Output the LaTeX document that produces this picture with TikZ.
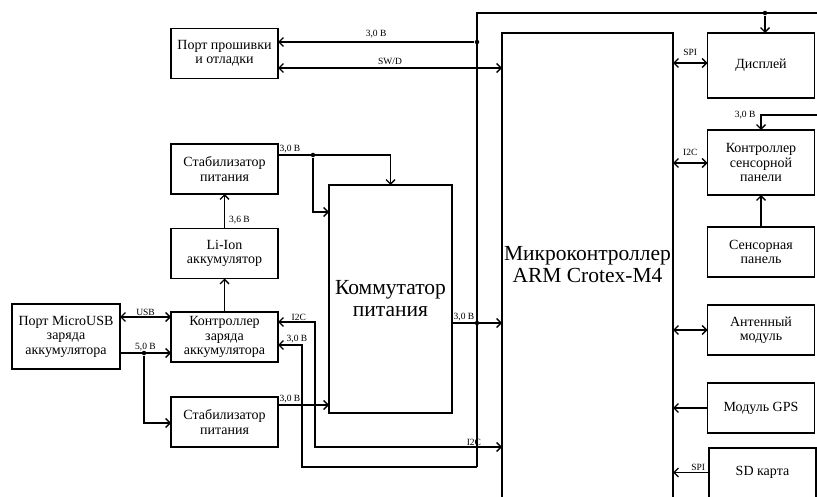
\documentclass[tikz,border=0pt]{standalone}
\usepackage{fontspec}
\setmainfont{Liberation Serif}
\usetikzlibrary{arrows.meta,calc}

\begin{document}
\begin{tikzpicture}[x=1pt, y=-1pt, line width=1.3pt, >={Straight Barb[length=4.5pt,width=9pt]}]
    \tikzset{block/.style={rectangle, draw, minimum width=107pt, minimum height=50pt, align=center, inner sep=1pt, outer sep=0pt, font=\fontsize{14}{14.5}\selectfont}}
    \tikzset{big/.style={font=\fontsize{21.5}{22}\selectfont}}
    \tikzset{lbl/.style={font=\fontsize{9.5}{10}\selectfont, inner sep=1pt}}
    \tikzset{arrow/.style={->}}
    \tikzset{biarrow/.style={<->}}
    \tikzset{dot/.style={circle, fill, inner sep=0pt, minimum size=4.5pt}}

    \useasboundingbox (0,0) rectangle (817,497);

    % Left column
    \node[block] (port) at (224.5,53.5) {Порт прошивки\\и отладки};
    \node[block] (stab1) at (224.5,169) {Стабилизатор\\питания};
    \node[block] (liion) at (224.5,253.5) {Li-Ion\\аккумулятор};
    \node[block] (chg) at (224.5,337) {Контроллер\\заряда\\аккумулятора};
    \node[block] (stab2) at (224.5,422) {Стабилизатор\\питания};
    \node[block, minimum width=108pt, minimum height=65pt] (usb) at (66,336.5) {Порт MicroUSB\\заряда\\аккумулятора};

    % Switch and MCU
    \node[block, big, minimum width=123pt, minimum height=228pt] (komm) at (390.5,299) {Коммутатор\\питания};
    \node[block, big, draw=none, minimum width=171pt, minimum height=464pt] (mcu) at (587.5,265) {Микроконтроллер\\ARM Crotex-M4};
    \draw (mcu.south west) -- (mcu.north west) -- (mcu.north east) -- (mcu.south east);

    % Right column
    \node[block, minimum height=65pt] (disp) at (761,65.5) {Дисплей};
    \node[block, minimum height=65pt] (tctrl) at (761,162.5) {Контроллер\\сенсорной\\панели};
    \node[block] (tpanel) at (761,252) {Сенсорная\\панель};
    \node[block] (ant) at (761,330) {Антенный\\модуль};
    \node[block] (gps) at (761,408) {Модуль GPS};
    \node[block, draw=none, minimum height=49pt] (sd) at (762.5,472.5) {SD карта};
    \draw (sd.south west) -- (sd.north west) -- (sd.north east) -- (sd.south east);

    % 3,0 V bus
    \coordinate (bustop) at (477,13);
    \coordinate (busbot) at (477,467);
    \coordinate (topend) at (817,13);
    \coordinate (tin) at (817,115);
    \draw (busbot) -- (bustop) -- (topend);
    \node[dot] (jport) at (477,42) {};
    \node[dot] (jdisp) at (765,13) {};
    \node[dot] (jmcu) at (477,323) {};
    \draw[arrow] (jdisp) -- (jdisp |- disp.north);
    \draw[arrow] (jport) -- (jport -| port.east) node[lbl, midway, above=2pt] {3,0 В};
    \draw[biarrow] (port.east |- 0,68) -- (mcu.west |- 0,68) node[lbl, midway, above=2pt] {SW/D};

    % MCU peripherals
    \draw[biarrow] (mcu.east |- 0,63) -- (disp.west |- 0,63) node[lbl, midway, above=6pt] {SPI};
    \draw[biarrow] (mcu.east |- 0,163) -- (tctrl.west |- 0,163) node[lbl, midway, above=6pt] {I2C};
    \draw[arrow] (tin) -| (tctrl.north) node[lbl, pos=0.5, left=4pt] {3,0 В};
    \draw[arrow] (tpanel) -- (tctrl);
    \draw[biarrow] (mcu.east |- ant.west) -- (ant.west);
    \draw[arrow] (gps.west) -- (mcu.east |- gps.west);
    \draw[arrow] (sd.west) -- (mcu.east |- sd.west) node[lbl, pos=0.3, above] {SPI};

    % Power path
    \node[dot] (jstab) at (313,155) {};
    \node[dot] (jusb) at (144,353) {};
    \draw[arrow] (stab1.east |- 0,155) node[lbl, anchor=south west] {3,0 В} -| (komm.north);
    \draw[arrow] (jstab) |- (komm.west |- 0,212);
    \draw[arrow] (liion.north) -- (stab1.south) node[lbl, pos=0.25, right=3pt] {3,6 В};
    \draw[arrow] (chg.north) -- (liion.south);
    \draw[biarrow] (usb.east |- 0,317) -- (chg.west |- 0,317) node[lbl, midway, above] {USB};
    \draw[arrow] (usb.east |- 0,353) -- (chg.west |- 0,353) node[lbl, midway, above] {5,0 В};
    \draw[arrow] (jusb) |- (stab2.west |- 0,423);
    \draw[arrow] (stab2.east |- 0,405) node[lbl, anchor=south west] {3,0 В} -- (komm.west |- 0,405);
    \draw[arrow] (komm.east |- 0,323) node[lbl, anchor=south west] {3,0 В} -- (mcu.west |- jmcu);

    % Charger links
    \coordinate (i2ccorner) at (315,447);
    \coordinate (pwrcorner) at (302,467);
    \draw[biarrow] (chg.east |- 0,322) node[lbl, anchor=south west, xshift=12pt] {I2C} -| (i2ccorner) -- (mcu.west |- i2ccorner) node[lbl, pos=0.85, above] {I2C};
    \draw[<-] (chg.east |- 0,345) node[lbl, anchor=south west, xshift=7pt] {3,0 В} -| (pwrcorner) -- (busbot);
\end{tikzpicture}
\end{document}
